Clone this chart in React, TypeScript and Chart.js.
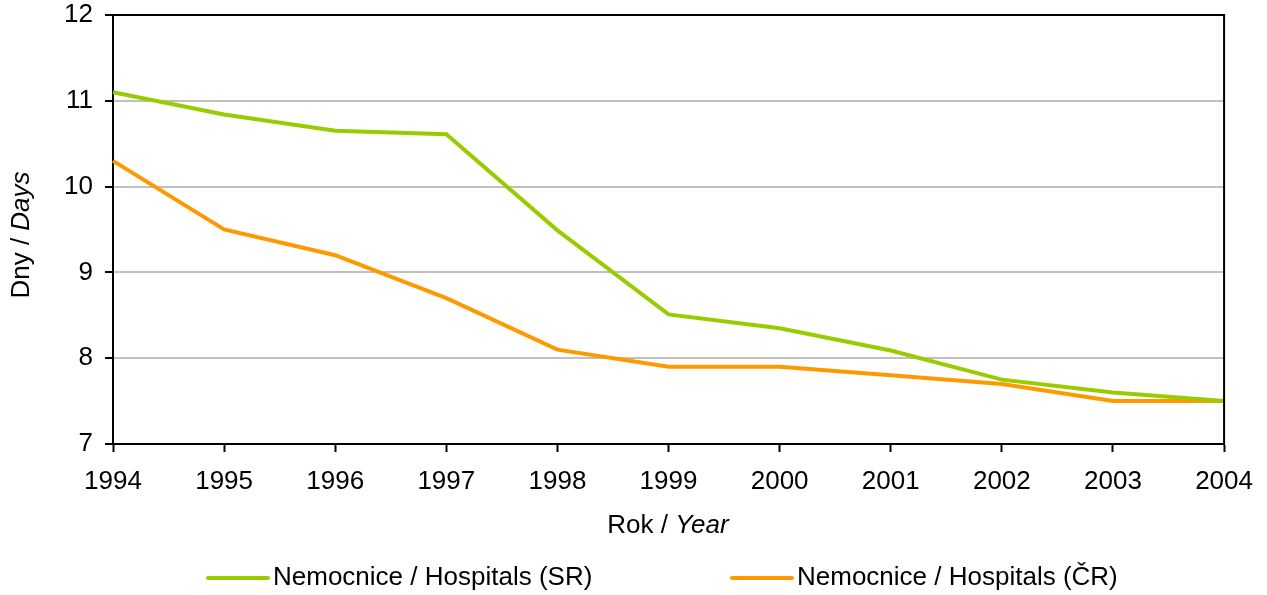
import React, { useEffect, useRef } from "react";
import { Chart, registerables } from "chart.js";

Chart.register(...registerables);

const years = ["1994", "1995", "1996", "1997", "1998", "1999", "2000", "2001", "2002", "2003", "2004"];
const hospitalsSR = [11.1, 10.84, 10.65, 10.61, 9.49, 8.51, 8.35, 8.09, 7.75, 7.6, 7.5];
const hospitalsCR = [10.3, 9.5, 9.2, 8.7, 8.1, 7.9, 7.9, 7.8, 7.7, 7.5, 7.5];
const seriesLabels = ["Nemocnice / Hospitals (SR)", "Nemocnice / Hospitals (ČR)"];
const seriesColors = ["#99CC00", "#FF9900"];
const xTitleParts: [string, boolean][] = [["Rok / ", false], ["Year", true]];
const yTitleParts: [string, boolean][] = [["Dny / ", false], ["Days", true]];

const FONT = "'Liberation Sans', Arial, sans-serif";
const FS = 26;

function drawMixed(ctx: CanvasRenderingContext2D, parts: [string, boolean][], cx: number, cy: number, size: number) {
  let total = 0;
  const widths = parts.map(([t, it]) => {
    ctx.font = `${it ? "italic " : ""}${size}px ${FONT}`;
    const w = ctx.measureText(t).width;
    total += w;
    return w;
  });
  let x = cx - total / 2;
  ctx.textBaseline = "middle";
  ctx.textAlign = "left";
  parts.forEach(([t, it], i) => {
    ctx.font = `${it ? "italic " : ""}${size}px ${FONT}`;
    ctx.fillText(t, x, cy);
    x += widths[i];
  });
}

const extras = {
  id: "extras",
  afterDraw(chart: any) {
    const ctx = chart.ctx as CanvasRenderingContext2D;
    const a = chart.chartArea;
    ctx.save();
    ctx.strokeStyle = "#000";
    ctx.lineWidth = 2;
    ctx.beginPath();
    ctx.moveTo(a.left, a.top);
    ctx.lineTo(a.right, a.top);
    ctx.lineTo(a.right, a.bottom);
    ctx.stroke();
    ctx.fillStyle = "#000";
    drawMixed(ctx, xTitleParts, 668, 526, FS);
    ctx.save();
    ctx.translate(22, 235);
    ctx.rotate(-Math.PI / 2);
    drawMixed(ctx, yTitleParts, 0, 0, FS);
    ctx.restore();
    // legend
    const legendX = [208, 732];
    const ly = 578;
    seriesLabels.forEach((lab, i) => {
      ctx.strokeStyle = seriesColors[i];
      ctx.lineWidth = 4;
      ctx.lineCap = "round";
      ctx.beginPath();
      ctx.moveTo(legendX[i], ly);
      ctx.lineTo(legendX[i] + 60, ly);
      ctx.stroke();
      ctx.fillStyle = "#000";
      ctx.font = `${FS}px ${FONT}`;
      ctx.textAlign = "left";
      ctx.textBaseline = "middle";
      ctx.fillText(lab, legendX[i] + 65, ly);
    });
    ctx.restore();
  },
};

export default function App() {
  const ref = useRef<HTMLCanvasElement>(null);
  useEffect(() => {
    if (!ref.current) return;
    const chart = new Chart(ref.current, {
      type: "line",
      data: {
        labels: years,
        datasets: [
          { label: seriesLabels[0], data: hospitalsSR, borderColor: seriesColors[0], backgroundColor: seriesColors[0], borderWidth: 4, pointRadius: 0, tension: 0 },
          { label: seriesLabels[1], data: hospitalsCR, borderColor: seriesColors[1], backgroundColor: seriesColors[1], borderWidth: 4, pointRadius: 0, tension: 0 },
        ],
      },
      options: {
        animation: false,
        responsive: false,
        maintainAspectRatio: false,
        layout: { padding: { top: 15, right: 42, left: 0, bottom: 0 } },
        plugins: { legend: { display: false }, tooltip: { enabled: false } },
        scales: {
          x: {
            offset: false,
            grid: { drawOnChartArea: false, drawTicks: true, tickLength: 8, tickColor: "#000", tickWidth: 2 },
            border: { color: "#000", width: 2 },
            ticks: { color: "#000", font: { family: FONT, size: FS }, padding: 14, maxRotation: 0, autoSkip: false },
            afterFit: (s: any) => { s.height = 151; },
          },
          y: {
            min: 7,
            max: 12,
            grid: {
              color: (c: any) => (c.tick && c.tick.value === 12 ? "#000" : "#c0c0c0"),
              lineWidth: 2,
              tickLength: 8,
              tickColor: "#000",
              tickWidth: 2,
            },
            border: { color: "#000", width: 2 },
            ticks: { stepSize: 1, color: "#000", font: { family: FONT, size: FS }, padding: 12 },
            afterFit: (s: any) => { s.width = 113; s.paddingTop = 0; s.paddingBottom = 0; },
          },
        },
      },
      plugins: [extras],
    });
    return () => chart.destroy();
  }, []);
  return (
    <div style={{ position: "absolute", left: 0, top: 0, width: 1267, height: 595, background: "#fff" }}>
      <canvas ref={ref} width={1267} height={595} style={{ width: 1267, height: 595, display: "block" }} />
    </div>
  );
}
